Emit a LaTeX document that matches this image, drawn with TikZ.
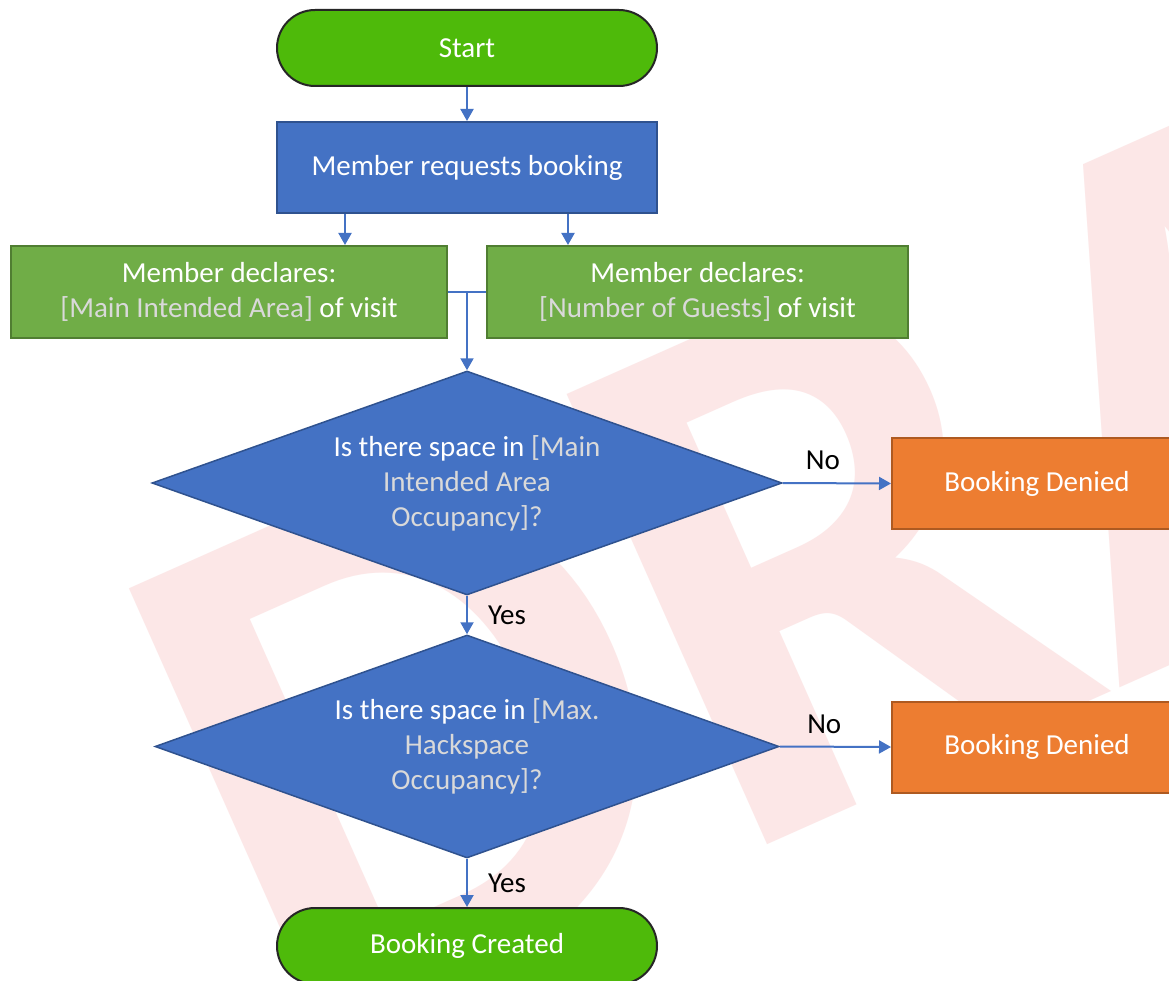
\documentclass[tikz,border=0pt]{standalone}
\usepackage{fontspec}
\setmainfont{Carlito}
\usepackage{xcolor}
\usetikzlibrary{shapes.geometric, arrows.meta, positioning, calc}

\definecolor{termgreen}{HTML}{4EBA0A}
\definecolor{termline}{HTML}{262626}
\definecolor{stepblue}{HTML}{4472C4}
\definecolor{stepline}{HTML}{2F528F}
\definecolor{declgreen}{HTML}{70AD47}
\definecolor{declline}{HTML}{507E32}
\definecolor{denyorange}{HTML}{ED7D31}
\definecolor{denyline}{HTML}{AE5A21}
\definecolor{fieldgray}{HTML}{D9D9D9}
\definecolor{wmpink}{HTML}{FCE7E7}

\newcommand{\fieldtxt}[1]{\textcolor{fieldgray}{#1}}

\tikzset{
  every node/.style={font=\fontsize{29}{35}\selectfont, inner sep=0pt},
  terminal/.style={draw=termline, line width=2pt, fill=termgreen, text=white, rounded corners=38pt, minimum width=380pt, minimum height=76pt},
  process/.style={draw=stepline, line width=2pt, fill=stepblue, text=white, minimum width=380pt, minimum height=91pt},
  declare/.style={draw=declline, line width=2pt, fill=declgreen, text=white, align=center, minimum height=92pt},
  decision/.style={diamond, aspect=2.8, draw=stepline, line width=1.5pt, fill=stepblue, text=white, align=center},
  denied/.style={draw=denyline, line width=2pt, fill=denyorange, text=white, minimum width=290pt, minimum height=91pt},
  link/.style={draw=stepblue, line width=2pt, -{Triangle[width=13pt,length=12pt]}},
  answer/.style={text=black}
}

\begin{document}
\begin{tikzpicture}[x=1pt, y=1pt]
\useasboundingbox (0,0) rectangle (1169,-981);
\fill[white] (0,0) rectangle (1169,-981);

% watermark
\node[text=wmpink, rotate=24, anchor=base west, font=\fontsize{760}{760}\selectfont\bfseries] (wmark) at (290,-1057) {DRAFT};

% flow
\node[terminal] (start) at (467,-48) {Start};
\node[process] (req) at (467,-167.5) {Member requests booking};
\node[declare, minimum width=436pt] (area) at (229,-292) {Member declares:\\\fieldtxt{[Main Intended Area]} of visit};
\node[declare, minimum width=421pt] (guests) at (697.5,-292) {Member declares:\\\fieldtxt{[Number of Guests]} of visit};
\node[decision, minimum width=630pt, minimum height=224pt] (qarea) at (467,-483) {Is there space in \fieldtxt{[Main}\\\fieldtxt{Intended Area}\\\fieldtxt{Occupancy]?}};
\node[denied] (deny1) at (1037,-483.5) {Booking Denied};
\node[decision, minimum width=624pt, minimum height=223pt] (qmax) at (467,-746.5) {Is there space in \fieldtxt{[Max.}\\\fieldtxt{Hackspace}\\\fieldtxt{Occupancy]?}};
\node[denied] (deny2) at (1037,-747) {Booking Denied};
\node[terminal] (done) at (467,-946) {Booking Created};

% connectors
\draw[link] (start) -- (req);
\draw[link] ([xshift=69pt]req.south west) -- ([xshift=69pt]req.south west |- area.north);
\draw[link] ([xshift=-90pt]req.south east) -- ([xshift=-90pt]req.south east |- guests.north);
\draw[stepblue, line width=1.2pt] (area.east) -- (guests.west);
\draw[link] (area.east -| qarea.north) -- (qarea.north);
\draw[link] (qarea.east) -- node[answer, pos=.37, above=12pt] {No} (deny1.west);
\draw[link] (qarea.south) -- node[answer, right=20pt] {Yes} (qmax.north);
\draw[link] (qmax.east) -- node[answer, pos=.4, above=12pt] {No} (deny2.west);
\draw[link] (qmax.south) -- node[answer, right=20pt] {Yes} (done.north);
\end{tikzpicture}
\end{document}
